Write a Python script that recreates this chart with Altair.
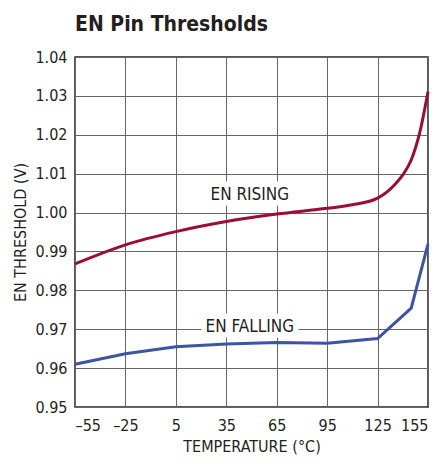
import altair as alt
import pandas as pd

# Data
rise_t = [-55, -25, 5, 35, 65, 95, 110, 125, 135, 140, 145, 150, 155]
rise_v = [0.9868, 0.9917, 0.9951, 0.9977, 0.9996, 1.0011, 1.0020, 1.0037, 1.0071, 1.0097, 1.0135, 1.0204, 1.0311]
fall_t = [-55, -25, 5, 35, 65, 95, 125, 145, 155]
fall_v = [0.9610, 0.9637, 0.9655, 0.9662, 0.9666, 0.9664, 0.9676, 0.9754, 0.9919]

x_ticks = [-55, -25, 5, 35, 65, 95, 125, 155]
y_ticks = [0.95, 0.96, 0.97, 0.98, 0.99, 1.00, 1.01, 1.02, 1.03, 1.04]

label_text = ["EN RISING", "EN FALLING"]
label_t = [49, 49]
label_v = [1.0046, 0.9707]

FONT = "DejaVu Sans Condensed"

rise = pd.DataFrame({"t": rise_t, "v": rise_v})
fall = pd.DataFrame({"t": fall_t, "v": fall_v})
labels = pd.DataFrame({"t": label_t, "v": label_v, "txt": label_text})

xs = alt.Scale(domain=[-55, 155], nice=False, zero=False)
ys = alt.Scale(domain=[0.95, 1.04], nice=False, zero=False)

xax = alt.Axis(values=x_ticks, title="TEMPERATURE (°C)",
               labelExpr="replace(replace(datum.label, '−', '–'), '-', '–')")
yax = alt.Axis(values=y_ticks, format=".2f", title="EN THRESHOLD (V)")

X = alt.X("t:Q", scale=xs, axis=xax)
Y = alt.Y("v:Q", scale=ys, axis=yax)

line_r = alt.Chart(rise).mark_line(color="#9c0d32", strokeWidth=3, interpolate="monotone").encode(x=X, y=Y)
line_f = alt.Chart(fall).mark_line(color="#3b54a3", strokeWidth=3).encode(x=X, y=Y)

halo = alt.Chart(labels).mark_text(fontSize=17, font=FONT, color="white", stroke="white",
                                   strokeWidth=11, baseline="middle").encode(x=X, y=Y, text="txt:N")
txt = alt.Chart(labels).mark_text(fontSize=17, font=FONT, color="#231f20",
                                  baseline="middle").encode(x=X, y=Y, text="txt:N")

chart = alt.layer(halo, line_f, line_r, txt).properties(
    width=353, height=350,
    autosize=alt.AutoSizeParams(type="none"),
    padding={"left": 67, "top": 49, "right": 2, "bottom": 49},
    title=alt.TitleParams("EN Pin Thresholds", anchor="start", frame="group", fontSize=21, font=FONT,
                          fontWeight="bold", color="#231f20", offset=14),
).configure_view(stroke="#231f20", strokeWidth=1.5).configure_axis(
    grid=True, gridColor="#666666", gridWidth=1, gridOpacity=1, ticks=False, domain=False,
    labelFont=FONT, titleFont=FONT, labelFontSize=16, titleFontSize=16,
    titleFontWeight="normal", labelColor="#231f20", titleColor="#231f20",
).configure_axisX(labelPadding=10, titlePadding=5).configure_axisY(labelPadding=8, titlePadding=6)

chart.save("out.html", embed_options={"renderer": "svg", "actions": False})
